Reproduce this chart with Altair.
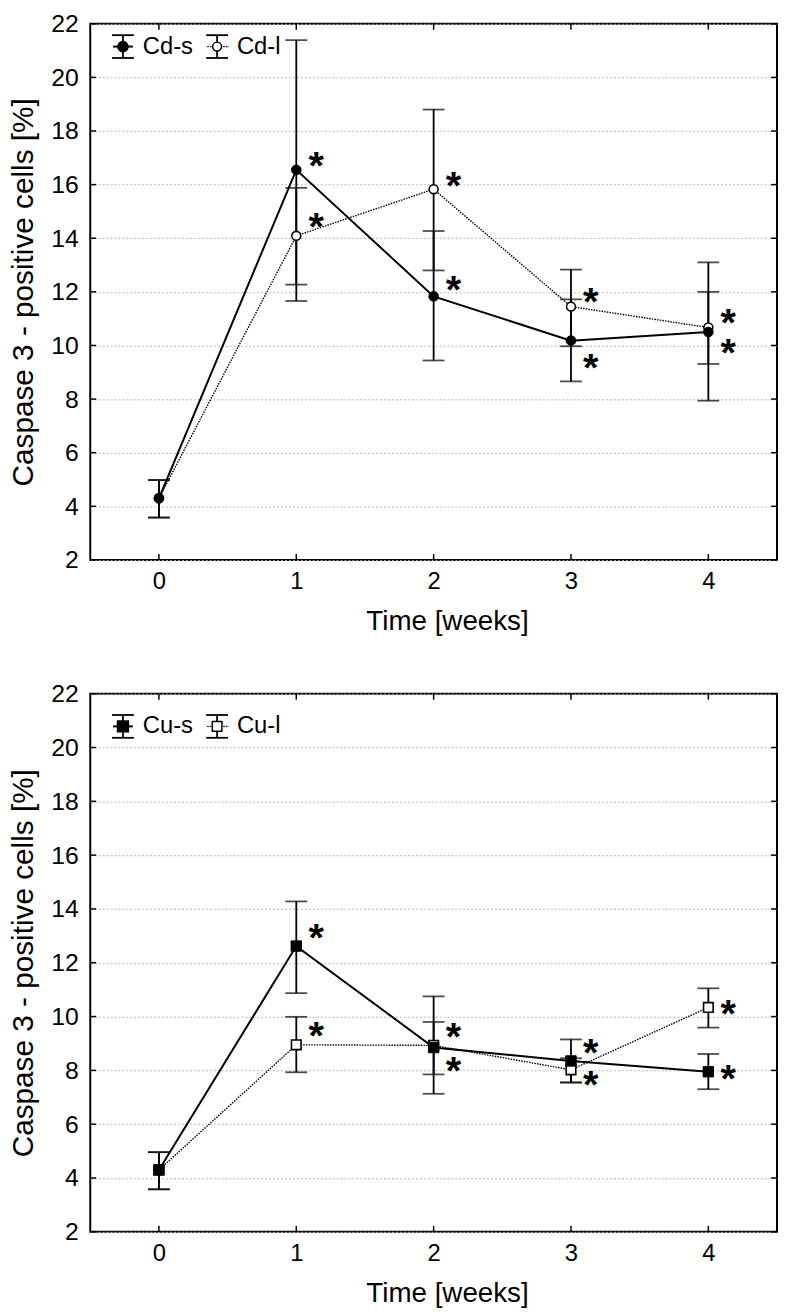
import altair as alt
import pandas as pd

# ---------------- data ----------------
times = [0, 1, 2, 3, 4]
x_ticks = [0, 1, 2, 3, 4]
y_ticks = [2, 4, 6, 8, 10, 12, 14, 16, 18, 20, 22]

# Cd panel
cd_s_mean = [4.30, 16.55, 11.83, 10.18, 10.50]
cd_s_lo = [3.58, 11.66, 9.44, 8.66, 7.94]
cd_s_hi = [4.98, 21.39, 14.27, 11.72, 13.10]
cd_l_mean = [4.30, 14.09, 15.83, 11.45, 10.67]
cd_l_lo = [3.58, 12.27, 12.80, 9.97, 9.31]
cd_l_hi = [4.98, 15.88, 18.80, 12.83, 12.00]
cd_star_t = [1, 1, 2, 2, 3, 3, 4, 4]
cd_star_y = [16.90, 14.63, 16.17, 12.28, 11.85, 9.39, 11.07, 9.94]
cd_names = ["Cd-s", "Cd-l"]

# Cu panel
cu_s_mean = [4.30, 12.62, 8.85, 8.35, 7.95]
cu_s_lo = [3.58, 10.87, 7.13, 7.55, 7.30]
cu_s_hi = [4.96, 14.28, 10.75, 9.15, 8.61]
cu_l_mean = [4.30, 8.95, 8.93, 8.02, 10.34]
cu_l_lo = [3.58, 7.93, 7.85, 7.55, 9.59]
cu_l_hi = [4.96, 9.99, 9.80, 8.45, 11.05]
cu_star_t = [1, 1, 2, 2, 3, 3, 4, 4]
cu_star_y = [13.13, 9.51, 9.47, 8.20, 8.86, 7.67, 10.31, 7.88]
cu_names = ["Cu-s", "Cu-l"]

FONT = "Liberation Sans"
W = 693
TL = 6  # inward tick length


def panel(s_mean, s_lo, s_hi, l_mean, l_lo, l_hi, star_t, star_y, names, shape,
          leg_y, H, x_lab_pad, x_title_pad):
    df = pd.DataFrame({
        "t": times * 2,
        "m": s_mean + l_mean,
        "lo": s_lo + l_lo,
        "hi": s_hi + l_hi,
        "series": ["s"] * 5 + ["l"] * 5,
    })
    stars = pd.DataFrame({"t": star_t, "y": star_y})
    xt = pd.DataFrame({"v": x_ticks})
    yt = pd.DataFrame({"v": y_ticks})
    one = pd.DataFrame({"a": [0]})

    xs = alt.Scale(domain=[-0.5, 4.5], nice=False, zero=False)
    ys = alt.Scale(domain=[2, 22], nice=False, zero=False)
    xaxis = alt.Axis(values=x_ticks, title="Time [weeks]", grid=False, titleX=360,
                     labelPadding=x_lab_pad, titlePadding=x_title_pad)
    yaxis = alt.Axis(values=y_ticks, title="Caspase 3 - positive cells [%]", grid=True)

    def X(f):
        return alt.X(f, type="quantitative", scale=xs, axis=xaxis)

    def Y(f):
        return alt.Y(f, type="quantitative", scale=ys, axis=yaxis)

    base = alt.Chart(df)
    err = base.mark_rule(color="black", strokeWidth=1.8).encode(x=X("t"), y=Y("lo"), y2="hi")
    cap_lo = base.mark_tick(orient="horizontal", size=22, thickness=1.8, color="black").encode(x=X("t"), y=Y("lo"))
    cap_hi = base.mark_tick(orient="horizontal", size=22, thickness=1.8, color="black").encode(x=X("t"), y=Y("hi"))
    line_l = base.transform_filter("datum.series == 'l'").mark_line(
        color="black", strokeWidth=1.4, strokeDash=[1.5, 1.2]).encode(x=X("t"), y=Y("m"))
    line_s = base.transform_filter("datum.series == 's'").mark_line(
        color="black", strokeWidth=2).encode(x=X("t"), y=Y("m"))
    msize = 95 if shape == "circle" else 110
    pts_l = base.transform_filter("datum.series == 'l'").mark_point(
        shape=shape, filled=True, fill="white", stroke="black", strokeWidth=1.6,
        size=msize * 0.85, opacity=1).encode(x=X("t"), y=Y("m"))
    pts_s = base.transform_filter("datum.series == 's'").mark_point(
        shape=shape, filled=True, fill="black", stroke="black", strokeWidth=1,
        size=msize, opacity=1).encode(x=X("t"), y=Y("m"))
    star = alt.Chart(stars).mark_text(
        text="*", font=FONT, fontSize=40, fontWeight="bold", dx=20, dy=19,
        baseline="alphabetic", align="center", color="black").encode(x=X("t"), y=Y("y"))

    # inward ticks on all four sides
    tb = alt.Chart(xt).mark_rule(color="black", strokeWidth=1.5).encode(
        x=X("v"), y=alt.value(H), y2=alt.value(H - TL))
    tt = alt.Chart(xt).mark_rule(color="black", strokeWidth=1.5).encode(
        x=X("v"), y=alt.value(0), y2=alt.value(TL))
    tlft = alt.Chart(yt).mark_rule(color="black", strokeWidth=1.5).encode(
        y=Y("v"), x=alt.value(0), x2=alt.value(TL))
    trgt = alt.Chart(yt).mark_rule(color="black", strokeWidth=1.5).encode(
        y=Y("v"), x=alt.value(W), x2=alt.value(W - TL))

    # manual legend
    leg = []
    for i, nm in enumerate(names):
        gx = 33 + 95 * i
        o = alt.Chart(one)
        leg.append(o.mark_rule(color="black", strokeWidth=1.8).encode(
            x=alt.value(gx), y=alt.value(leg_y - 11.5), y2=alt.value(leg_y + 11.5)))
        for dy_ in (-11.5, 11.5):
            leg.append(o.mark_rule(color="black", strokeWidth=1.8).encode(
                x=alt.value(gx - 11), x2=alt.value(gx + 11), y=alt.value(leg_y + dy_)))
        if i == 0:
            leg.append(o.mark_rule(color="black", strokeWidth=2).encode(
                x=alt.value(gx - 10), x2=alt.value(gx + 10), y=alt.value(leg_y)))
            leg.append(o.mark_point(shape=shape, filled=True, fill="black", stroke="black",
                                    size=msize, opacity=1).encode(
                x=alt.value(gx), y=alt.value(leg_y)))
        else:
            leg.append(o.mark_rule(color="black", strokeWidth=1.2, strokeDash=[1.5, 1.2]).encode(
                x=alt.value(gx - 10), x2=alt.value(gx + 12), y=alt.value(leg_y)))
            leg.append(o.mark_point(shape=shape, filled=True, fill="white", stroke="black",
                                    strokeWidth=1.5, size=msize * 0.85, opacity=1).encode(
                x=alt.value(gx), y=alt.value(leg_y)))
        leg.append(o.mark_text(align="left", baseline="middle", font=FONT, fontSize=24,
                               color="black").encode(
            x=alt.value(gx + 20), y=alt.value(leg_y), text=alt.value(nm)))

    return alt.layer(line_l, line_s, err, cap_lo, cap_hi, pts_l, pts_s, star,
                     tb, tt, tlft, trgt, *leg).properties(width=W, height=H)


top = panel(cd_s_mean, cd_s_lo, cd_s_hi, cd_l_mean, cd_l_lo, cd_l_hi,
            cd_star_t, cd_star_y, cd_names, "circle", 23, 541, 10, 14)
bottom = panel(cu_s_mean, cu_s_lo, cu_s_hi, cu_l_mean, cu_l_lo, cu_l_hi,
               cu_star_t, cu_star_y, cu_names, "square", 33, 543, 10, 14)

chart = alt.vconcat(top, bottom, spacing=45).properties(
    padding={"top": -3, "left": 0, "right": 0, "bottom": 0}
).configure_view(
    stroke="black", strokeWidth=2
).configure_axis(
    domain=False, ticks=False, tickSize=0,
    labelFont=FONT, labelFontSize=25, labelColor="black",
    titleFont=FONT, titleFontSize=29, titleFontWeight="normal", titleColor="black",
    gridColor="#b5b5b5", gridDash=[2, 2], gridWidth=1,
).configure_axisY(
    labelPadding=12, titlePadding=12, titleFontSize=30,
).configure_axisX(
    labelFontSize=24, titleFontSize=28,
)

chart.save("out.html", embed_options={"renderer": "svg", "actions": False})
